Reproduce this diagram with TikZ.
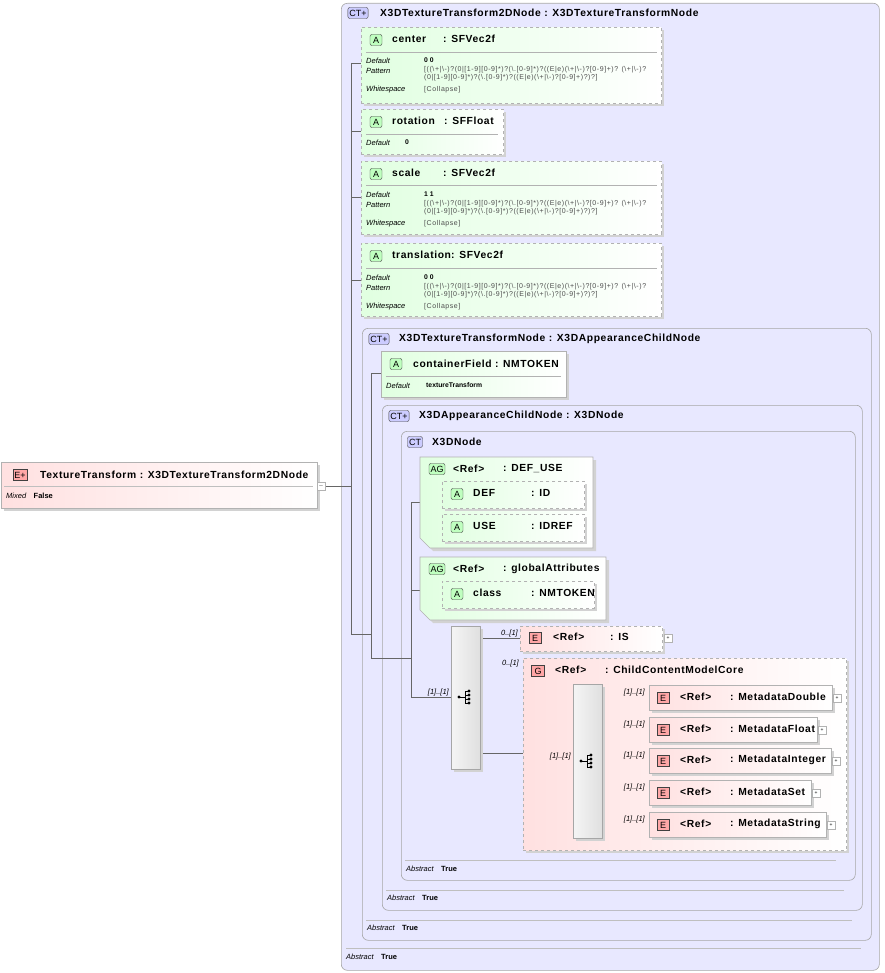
\documentclass[tikz,border=0pt]{standalone}
\usepackage{fontspec}
\setmainfont{Liberation Sans}
\newfontfamily\hdfont[LetterSpace=6]{Liberation Sans}
\newfontfamily\patfont[LetterSpace=8]{Liberation Sans}
\begin{document}
\begin{tikzpicture}[x=1pt,y=-1pt,
 ln/.style={draw=gray!80!black,line width=0.5pt},
 ct/.style={draw=gray!70,rounded corners=6pt,fill=blue!9,line width=0.6pt},
 att/.style={draw=gray!60,dashed,left color=green!12,right color=white,line width=0.6pt},
 attsolid/.style={draw=gray!60,left color=green!12,right color=white,line width=0.6pt},
 el/.style={draw=gray!60,left color=red!12,right color=white,line width=0.6pt},
 eld/.style={draw=gray!60,dashed,left color=red!12,right color=white,line width=0.6pt},
 shd/.style={fill=gray!35,draw=none},
 badge/.style={draw=gray!50!black,rounded corners=2pt,minimum height=11pt,inner sep=1.5pt,font=\fontsize{9}{10}\selectfont},
 hd/.style={font=\hdfont\bfseries\fontsize{10.3}{11}\selectfont,anchor=west,inner sep=0},
 sm/.style={font=\itshape\fontsize{7.5}{8}\selectfont,anchor=west,inner sep=0},
 smb/.style={font=\bfseries\fontsize{6.8}{7}\selectfont,anchor=west,inner sep=0},
 pat/.style={font=\patfont\fontsize{7}{8}\selectfont,anchor=north west,inner sep=0,text=gray!60!black,align=left},
 card/.style={font=\itshape\fontsize{7.5}{8}\selectfont,anchor=south east,inner sep=1pt},
 pm/.style={draw=gray!60,fill=white,minimum size=8pt,inner sep=0},
 seq/.style={draw=gray!70,left color=gray!8,right color=gray!25,line width=0.5pt}]
\useasboundingbox (0,0) rectangle (884,973);
% ---------- containers
\node[ct,minimum width=538pt,minimum height=967pt,anchor=north west] (ct1) at (341,3) {};
\draw[gray!50] (346,948) -- (861,948);
\node[sm] (ab1) at (346,957) {Abstract\quad\textbf{\upshape True}};
\node[badge,fill=blue!20] (b1) at (358,13) {CT+};
\node[hd] (h1) at (380,13) {X3DTextureTransform2DNode : X3DTextureTransformNode};

\node[ct,minimum width=509pt,minimum height=612pt,anchor=north west] (ct2) at (362,328) {};
\draw[gray!50] (366,920) -- (852,920);
\node[sm] (ab2) at (367,928) {Abstract\quad\textbf{\upshape True}};
\node[badge,fill=blue!20] (b2) at (379,339) {CT+};
\node[hd] (h2) at (399,339) {X3DTextureTransformNode : X3DAppearanceChildNode};

\node[ct,minimum width=480pt,minimum height=505pt,anchor=north west] (ct3) at (382,405) {};
\draw[gray!50] (386,890) -- (844,890);
\node[sm] (ab3) at (387,898) {Abstract\quad\textbf{\upshape True}};
\node[badge,fill=blue!20] (b3) at (399,416) {CT+};
\node[hd] (h3) at (419,416) {X3DAppearanceChildNode : X3DNode};

\node[ct,minimum width=454pt,minimum height=449pt,anchor=north west] (ct4) at (401,431) {};
\draw[gray!50] (405,860) -- (836,860);
\node[sm] (ab4) at (406,869) {Abstract\quad\textbf{\upshape True}};
\node[badge,fill=blue!20] (b4) at (415,442) {CT};
\node[hd] (h4) at (432,442) {X3DNode};

% ---------- connectors
\draw[ln] (317,486) -- (351,486);
\draw[ln] (351,63) -- (351,634) -- (371,634);
\foreach \y in {63,131,197,280} \draw[ln] (351,\y) -- (361,\y);
\draw[ln] (371,373) -- (371,658) -- (411,658);
\draw[ln] (371,373) -- (381,373);
\draw[ln] (411,502) -- (411,697) -- (451,697);
\draw[ln] (411,502) -- (420,502);
\draw[ln] (411,590) -- (420,590);
\draw[ln] (431,480) -- (431,527);
\draw[ln] (431,494) -- (442,494); \draw[ln] (431,527) -- (442,527);
\draw[ln] (431,594) -- (442,594);
\draw[ln] (480,638) -- (520,638);
\draw[ln] (480,753) -- (573,753);
\foreach \y in {697,729,761,792,824} \draw[ln] (602,\y) -- (649,\y);

% ---------- TextureTransform
\fill[shd] (4,465) rectangle (320,511);
\node[el,minimum width=316pt,minimum height=46pt,anchor=north west] (tt) at (1,462) {};
\node[badge,fill=red!35,rounded corners=0pt] (btt) at (20,475) {E+};
\node[hd] (htt) at (40,475) {TextureTransform : X3DTextureTransform2DNode};
\draw[gray!50] (4,486) -- (313,486);
\node[sm] (mx) at (6,496) {Mixed\quad\textbf{\upshape False}};
\node[pm] (pmtt) at (321,486) {\tiny$-$};

% ---------- attribute boxes
\newcommand{\patt}{[((\textbackslash+|\textbackslash-)?(0|[1-9][0-9]*)?(\textbackslash.[0-9]*)?((E|e)(\textbackslash+|\textbackslash-)?[0-9]+)? (\textbackslash+|\textbackslash-)?\\(0|[1-9][0-9]*)?(\textbackslash.[0-9]*)?((E|e)(\textbackslash+|\textbackslash-)?[0-9]+)?)?]}
\newcommand{\attbox}[8]{% name x y w h title type typeoffset
 \fill[shd] (#2+3,#3+3) rectangle ++(#4,#5);
 \node[att,minimum width=#4pt,minimum height=#5pt,anchor=north west] (#1) at (#2,#3) {};
 \node[badge,fill=green!25] (#1b) at (#2+15,#3+13) {\,A\,};
 \node[hd] (#1t) at (#2+31,#3+12) {#6};
 \node[hd] (#1y) at (#2+#8,#3+12) {: #7};}
\attbox{ce}{361}{27}{300}{76}{center}{SFVec2f}{82}
\draw[gray!60] (366,52) -- (657,52);
\node[sm] at (366,61) {Default}; \node[smb] at (424,60) {0 0};
\node[sm] at (366,71) {Pattern}; \node[pat] at (424,66) {\patt};
\node[sm] at (366,90) {Whitespace}; \node[pat] at (424,86) {[Collapse]};

\attbox{ro}{361}{109}{142}{45}{rotation}{SFFloat}{83}
\draw[gray!60] (366,134) -- (498,134);
\node[sm] at (366,143) {Default}; \node[smb] at (405,142) {0};

\attbox{sc}{361}{161}{300}{73}{scale}{SFVec2f}{82}
\draw[gray!60] (366,185) -- (657,185);
\node[sm] at (366,195) {Default}; \node[smb] at (424,194) {1 1};
\node[sm] at (366,205) {Pattern}; \node[pat] at (424,200) {\patt};
\node[sm] at (366,224) {Whitespace}; \node[pat] at (424,220) {[Collapse]};

\attbox{tr}{361}{243}{300}{73}{translation}{SFVec2f}{90}
\draw[gray!60] (366,268) -- (657,268);
\node[sm] at (366,278) {Default}; \node[smb] at (424,277) {0 0};
\node[sm] at (366,288) {Pattern}; \node[pat] at (424,283) {\patt};
\node[sm] at (366,307) {Whitespace}; \node[pat] at (424,303) {[Collapse]};

\fill[shd] (384,354) rectangle ++(185,46);
\node[attsolid,minimum width=185pt,minimum height=46pt,anchor=north west] (cf) at (381,351) {};
\node[badge,fill=green!25] (cfb) at (396,364) {\,A\,};
\node[hd] (cft) at (413,364) {containerField : NMTOKEN};
\draw[gray!60] (386,376) -- (561,376);
\node[sm] at (386,386) {Default}; \node[smb] at (426,385) {textureTransform};

% ---------- attribute groups
\fill[shd] (423,460) -- (596,460) -- (596,551) -- (433,551) -- (423,541) -- cycle;
\draw[attsolid] (420,457) -- (593,457) -- (593,548) -- (430,548) -- (420,538) -- cycle;
\node[badge,fill=green!25] (ag1) at (437,469) {AG};
\node[hd] (ag1t) at (453,469) {<Ref>};
\node[hd] (ag1n) at (503,469) {: DEF\_USE};
\attbox{def}{442}{481}{142}{27}{DEF}{ID}{89}
\attbox{use}{442}{514}{142}{27}{USE}{IDREF}{89}

\fill[shd] (423,560) -- (609,560) -- (609,623) -- (433,623) -- (423,613) -- cycle;
\draw[attsolid] (420,557) -- (606,557) -- (606,620) -- (430,620) -- (420,610) -- cycle;
\node[badge,fill=green!25] (ag2) at (437,569) {AG};
\node[hd] (ag2t) at (453,569) {<Ref>};
\node[hd] (ag2n) at (503,569) {: globalAttributes};
\attbox{cl}{442}{581}{152}{27}{class}{NMTOKEN}{89}

% ---------- sequences and elements
\fill[shd] (454,629) rectangle (483,772);
\node[seq,minimum width=29pt,minimum height=143pt,anchor=north west] (s1) at (451,626) {};
\node[card] at (450,697) {[1]..[1]};
\node[card] at (519,638) {0..[1]};
\node[card] at (520,668) {0..[1]};

\newcommand{\seqicon}[2]{%
 \fill (#1-6,#2) circle (1.6pt); \draw (#1-6,#2) -- (#1,#2);
 \draw (#1,#2-6) -- (#1,#2+6);
 \foreach \d in {-6,-2,2,6} {\fill (#1+4,#2+\d) circle (1.6pt); \draw (#1,#2+\d) -- (#1+4,#2+\d);}}
\seqicon{465}{697}

\fill[shd] (523,629) rectangle (665,654);
\node[eld,minimum width=142pt,minimum height=25pt,anchor=north west] (is) at (520,626) {};
\node[badge,fill=red!35,rounded corners=0pt] (isb) at (535,638) {\,E\,};
\node[hd] (ist) at (553,637) {<Ref>};
\node[hd] (isn) at (610,637) {: IS};
\node[pm] (ispm) at (668,638) {\tiny+};

\fill[shd] (526,661) rectangle (849,853);
\node[eld,minimum width=323pt,minimum height=192pt,anchor=north west] (g) at (523,658) {};
\node[badge,fill=red!35,rounded corners=0pt] (gb) at (538,671) {\,G\,};
\node[hd] (gt) at (555,670) {<Ref>};
\node[hd] (gn) at (605,670) {: ChildContentModelCore};

\fill[shd] (576,687) rectangle (605,841);
\node[seq,minimum width=29pt,minimum height=154pt,anchor=north west] (s2) at (573,684) {};
\node[card] at (572,761) {[1]..[1]};
\seqicon{587}{761}

\newcommand{\elbox}[4]{% name y w text
 \fill[shd] (652,#2+3) rectangle ++(#3,25);
 \node[el,minimum width=#3pt,minimum height=25pt,anchor=north west] (#1) at (649,#2) {};
 \node[badge,fill=red!35,rounded corners=0pt] (#1b) at (663,#2+13) {\,E\,};
 \node[hd] (#1t) at (680,#2+12) {<Ref>};
 \node[hd] (#1n) at (730,#2+12) {: #4};
 \node[pm] (#1p) at (649+#3+5,#2+13) {\tiny+};
 \node[card] at (646,#2+12) {[1]..[1]};}
\elbox{md}{685}{183}{MetadataDouble}
\elbox{mf}{717}{168}{MetadataFloat}
\elbox{mi}{748}{182}{MetadataInteger}
\elbox{ms}{780}{162}{MetadataSet}
\elbox{mt}{812}{177}{MetadataString}
\end{tikzpicture}
\end{document}
